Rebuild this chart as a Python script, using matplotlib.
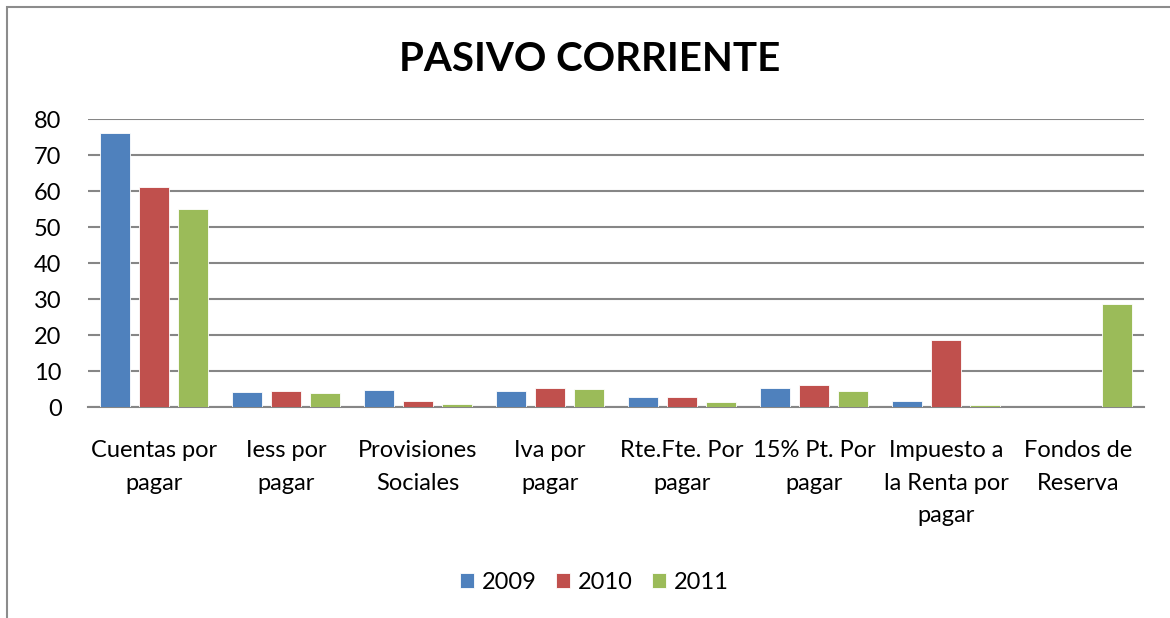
import numpy as np
import matplotlib
matplotlib.use('Agg')
from matplotlib import pyplot as plt
from matplotlib.patches import Rectangle

categories = ['Cuentas por\npagar', 'Iess por\npagar', 'Provisiones\nSociales', 'Iva por\npagar',
              'Rte.Fte. Por\npagar', '15% Pt. Por\npagar', 'Impuesto a\nla Renta por\npagar',
              'Fondos de\nReserva']
years = ['2009', '2010', '2011']
v2009 = [76.0, 4.2, 4.6, 4.4, 2.7, 5.2, 1.8, 0.0]
v2010 = [61.0, 4.4, 1.6, 5.3, 2.7, 6.0, 18.5, 0.0]
v2011 = [55.0, 3.8, 0.9, 4.9, 1.3, 4.4, 0.5, 28.6]
colors = ['#4F81BD', '#C0504D', '#9BBB59']

plt.rcParams['font.family'] = ['Lato', 'DejaVu Sans']

fig = plt.figure(figsize=(11.7, 6.18), dpi=100)
ax = fig.add_axes([0.0752, 0.3414, 0.9026, 0.466])

x = np.arange(len(categories))
width = 0.227
pitch = 0.296
for i, (vals, col, yr) in enumerate(zip([v2009, v2010, v2011], colors, years)):
    ax.bar(x + (i - 1) * pitch, vals, width, color=col, label=yr,
           edgecolor='white', linewidth=0.6, zorder=3)

ax.set_xlim(-0.5, len(categories) - 0.5)
ax.set_ylim(0, 80)
ax.set_yticks(range(0, 81, 10))
ax.yaxis.grid(True, color='#868686', linewidth=1.5, zorder=0)
ax.set_xticks(x)
ax.set_xticklabels(categories, fontsize=17, linespacing=1.68)
ax.tick_params(axis='both', length=0, labelsize=17)
ax.tick_params(axis='x', pad=24)
ax.tick_params(axis='y', pad=19)
for s in ['top', 'right', 'left']:
    ax.spines[s].set_visible(False)
ax.spines['bottom'].set_color('#868686')
ax.spines['bottom'].set_linewidth(1.5)

fig.text(0.504, 0.903, 'PASIVO CORRIENTE', ha='center', va='center',
         fontsize=29, fontweight='bold')

fig.legend(loc='center', bbox_to_anchor=(0.508, 0.058), ncol=3, frameon=False,
           fontsize=17, handlelength=0.6, handleheight=0.6, handletextpad=0.35,
           columnspacing=0.8)

fig.patches.append(Rectangle((7 / 1170, -0.1), 1.2, 1 - 7 / 618 + 0.1,
                             transform=fig.transFigure, fill=False,
                             edgecolor='#8C8C8C', linewidth=1.5))

fig.savefig('out.png', dpi=100)
